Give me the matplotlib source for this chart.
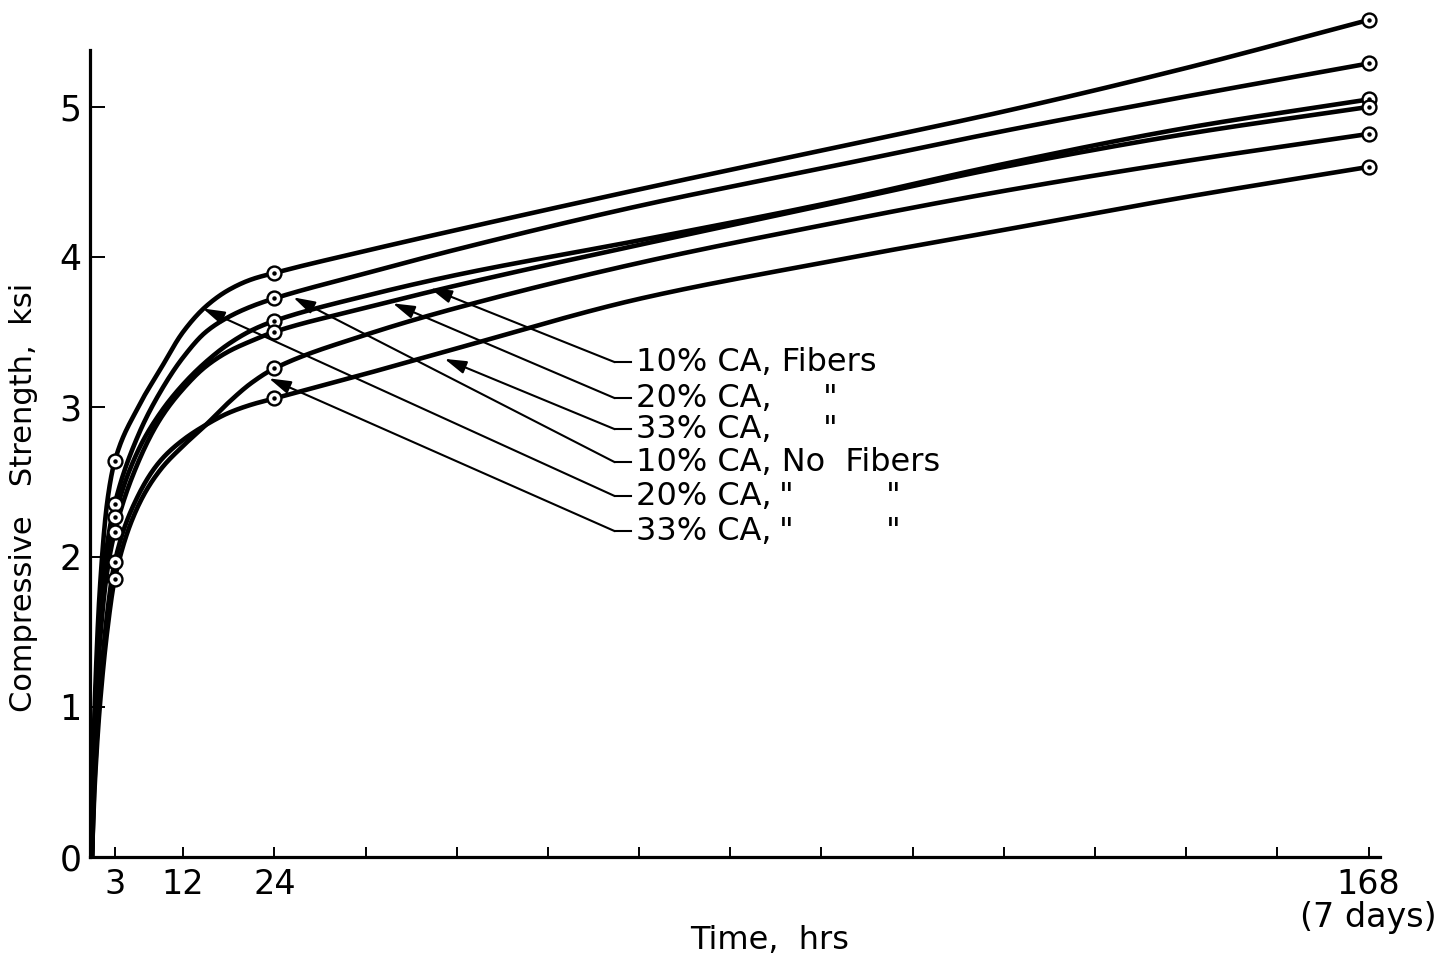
# Compressive strength vs. time for the six CA / fiber mixes
import numpy as np
import matplotlib
matplotlib.use('Agg')
import matplotlib.pyplot as plt

font = {'family': 'DejaVu Sans', 'size': 22}
matplotlib.rc('font', **font)

#~()~()~()~()~()~()~()~()~()~()~()~()~()~()~()~()~()~()~()~()~()~()~()~()~#
# values (hrs, ksi)
hours = [0, 0.25, 0.5, 1, 2, 3, 6, 9, 12, 15, 18, 21, 24, 36, 48, 72, 96, 120, 144, 168]
test_hours = [3, 24, 168]  # circled test points

curve_a = [0, 0.80, 1.20, 1.75, 2.36, 2.638, 2.99, 3.25, 3.50, 3.67, 3.78, 3.85, 3.893,
           4.04, 4.18, 4.45, 4.71, 4.97, 5.26, 5.58]
curve_b = [0, 0.70, 1.08, 1.55, 2.08, 2.351, 2.80, 3.10, 3.33, 3.50, 3.60, 3.67, 3.723,
           3.89, 4.05, 4.34, 4.59, 4.84, 5.07, 5.29]
curve_c = [0, 0.65, 1.00, 1.47, 1.99, 2.265, 2.70, 2.96, 3.15, 3.30, 3.42, 3.51, 3.573,
           3.74, 3.88, 4.11, 4.35, 4.62, 4.86, 5.05]
curve_d = [0, 0.60, 0.95, 1.40, 1.90, 2.165, 2.62, 2.92, 3.12, 3.27, 3.37, 3.44, 3.500,
           3.66, 3.81, 4.08, 4.34, 4.60, 4.82, 5.00]
curve_e = [0, 0.35, 0.60, 0.98, 1.50, 1.851, 2.33, 2.58, 2.74, 2.88, 3.03, 3.16, 3.256,
           3.48, 3.66, 3.96, 4.21, 4.44, 4.64, 4.82]
curve_f = [0, 0.40, 0.66, 1.07, 1.62, 1.965, 2.40, 2.64, 2.78, 2.88, 2.96, 3.015, 3.056,
           3.22, 3.39, 3.72, 3.96, 4.18, 4.40, 4.60]

x_ticks = [3, 12, 24, 36, 48, 60, 72, 84, 96, 108, 120, 132, 144, 156, 168]
x_tick_labels = ['3', '12', '24', '', '', '', '', '', '', '', '', '', '', '', '168\n(7 days)']
y_ticks = [0, 1, 2, 3, 4, 5]

label_strings = ['10% CA, Fibers', '20% CA,', '33% CA,', '10% CA, No  Fibers', '20% CA,', '33% CA,']
# label placement: text y, arrow tip (hrs, ksi), ditto mark positions (hrs)
label_y = [3.298, 3.058, 2.851, 2.631, 2.405, 2.171]
arrow_tips = [(44.5, 3.79), (39.6, 3.69), (46.4, 3.32), (26.5, 3.73), (14.6, 3.656), (23.3, 3.19)]
ditto_x = [[], [97.1], [97.1], [], [91.4, 105.4], [91.4, 105.4]]

#~()~()~()~()~()~()~()~()~()~()~()~()~()~()~()~()~()~()~()~()~()~()~()~()~#
def pchip(x, y, xn):
    """monotone cubic through the read points, only used to draw smooth curves"""
    x = np.asarray(x, float)
    y = np.asarray(y, float)
    h = np.diff(x)
    d = np.diff(y) / h
    m = np.zeros_like(y)
    for k in range(1, len(x) - 1):
        if d[k - 1] * d[k] > 0:
            w1 = 2 * h[k] + h[k - 1]
            w2 = h[k] + 2 * h[k - 1]
            m[k] = (w1 + w2) / (w1 / d[k - 1] + w2 / d[k])
    m[0] = d[0]
    m[-1] = d[-1]
    i = np.clip(np.searchsorted(x, xn) - 1, 0, len(x) - 2)
    s = (xn - x[i]) / h[i]
    h00 = 2 * s**3 - 3 * s**2 + 1
    h10 = s**3 - 2 * s**2 + s
    h01 = -2 * s**3 + 3 * s**2
    h11 = s**3 - s**2
    return h00 * y[i] + h10 * h[i] * m[i] + h01 * y[i + 1] + h11 * h[i] * m[i + 1]


def plot_strength():
    fig = plt.figure(figsize=(14.44, 9.63), dpi=100)
    ax = fig.add_axes([0.0623, 0.1104, 0.8934, 0.8377])

    t_dense = np.concatenate([np.linspace(0, 3, 400), np.linspace(3, 168, 1500)[1:]])
    idx = [hours.index(h) for h in test_hours]

    for curve in [curve_a, curve_b, curve_c, curve_d, curve_e, curve_f]:
        ax.plot(t_dense, pchip(hours, curve, t_dense), color='k', lw=3.3,
                solid_capstyle='round', clip_on=False, zorder=3)
        pts = [curve[i] for i in idx]
        ax.plot(test_hours, pts, 'o', ms=10, mfc='white', mec='k', mew=1.7,
                clip_on=False, zorder=4)
        ax.plot(test_hours, pts, 'o', ms=2.2, color='k', clip_on=False, zorder=5)

    # labels with leader lines
    for lab, ly, tip, dits in zip(label_strings, label_y, arrow_tips, ditto_x):
        ax.plot([68.8, 71.0], [ly, ly], color='k', lw=1.5, zorder=2)
        ax.annotate('', xy=tip, xytext=(68.8, ly),
                    arrowprops=dict(arrowstyle='-|>,head_length=0.6,head_width=0.18',
                                    color='k', lw=1.5, mutation_scale=22,
                                    shrinkA=0, shrinkB=0), zorder=2)
        ax.text(71.6, ly, lab, fontsize=23, ha='left', va='center')
        for dx in dits:
            ax.text(dx, ly, '"', fontsize=23, ha='center', va='center')

    ax.set_xlim(-0.26, 169.5)
    ax.set_ylim(0, 5.38)
    ax.set_xticks(x_ticks)
    ax.set_xticklabels(x_tick_labels, fontsize=24, linespacing=1.0)
    ax.set_yticks(y_ticks)
    ax.set_yticklabels([str(v) for v in y_ticks], fontsize=25)
    ax.tick_params(axis='x', direction='in', length=7, width=1.4, pad=8)
    ax.tick_params(axis='y', direction='in', length=11, width=1.4, pad=6)

    for side in ['top', 'right']:
        ax.spines[side].set_visible(False)
    for side in ['left', 'bottom']:
        ax.spines[side].set_linewidth(2.3)

    ax.set_xlabel('Time,  hrs', fontsize=23)
    ax.xaxis.set_label_coords(0.527, -0.085)
    ax.set_ylabel('Compressive   Strength,  ksi', fontsize=22)
    ax.yaxis.set_label_coords(-0.040, 0.446)

    plt.savefig('out.png', dpi=100)


#~()~()~()~()~()~()~()~()~()~()~()~()~()~()~()~()~()~()~()~()~()~()~()~()~#
if __name__ == '__main__':
    plot_strength()
